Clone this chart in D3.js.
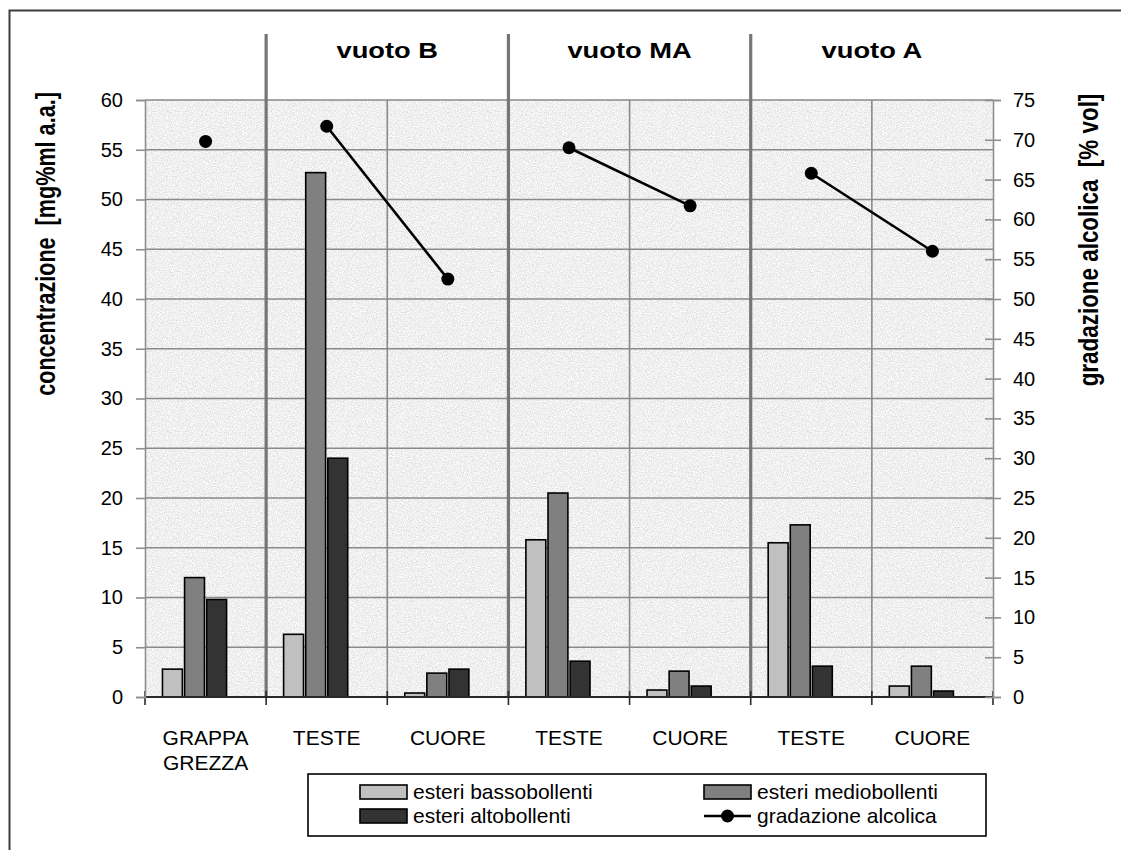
<!DOCTYPE html>
<html>
<head>
<meta charset="utf-8">
<script src="https://cdn.jsdelivr.net/npm/d3@7"></script>
<style>
  html, body { margin: 0; padding: 0; background: #ffffff; }
  svg { display: block; }
  text { font-family: "Liberation Sans", Arial, sans-serif; fill: #000; }
</style>
</head>
<body>
<svg id="chart" width="1121" height="850"></svg>
<script>
// ---------------- data ----------------
const categories = [["GRAPPA", "GREZZA"], ["TESTE"], ["CUORE"], ["TESTE"], ["CUORE"], ["TESTE"], ["CUORE"]];
const vuotoGroups = ["", "vuoto B", "vuoto B", "vuoto MA", "vuoto MA", "vuoto A", "vuoto A"];
const esteriBassobollenti = [2.8, 6.3, 0.4, 15.8, 0.7, 15.5, 1.1];
const esteriMediobollenti = [12.0, 52.7, 2.4, 20.5, 2.6, 17.3, 3.1];
const esteriAltobollenti = [9.8, 24.0, 2.8, 3.6, 1.1, 3.1, 0.6];
const gradazioneAlcolica = [69.8, 71.7, 52.5, 69.0, 61.7, 65.8, 56.0];
const seriesNames = ["esteri bassobollenti", "esteri mediobollenti", "esteri altobollenti", "gradazione alcolica"];
const leftTicks = d3.range(0, 61, 5);
const rightTicks = d3.range(0, 76, 5);
const leftTitle = "concentrazione  [mg%ml a.a.]";
const rightTitle = "gradazione alcolica  [% vol]";

// ---------------- layout ----------------
const svg = d3.select("#chart");
const plot = { left: 145, right: 993, top: 100, bottom: 697 };
const barColors = ["#c0c0c0", "#808080", "#333333"];
const gridColor = "#8a8a8a";

function stretch(sel, factor) {
  sel.each(function () {
    const w = this.getComputedTextLength();
    d3.select(this).attr("textLength", w * factor).attr("lengthAdjust", "spacingAndGlyphs");
  });
}

// granite texture filter
const defs = svg.append("defs");
const f = defs.append("filter").attr("id", "granite")
  .attr("x", 0).attr("y", 0).attr("width", 1).attr("height", 1)
  .attr("color-interpolation-filters", "sRGB");
f.append("feTurbulence").attr("type", "fractalNoise").attr("baseFrequency", 0.8)
  .attr("numOctaves", 3).attr("seed", 7).attr("result", "n");
f.append("feColorMatrix").attr("in", "n").attr("type", "matrix")
  .attr("values", "0.26 0 0 0 0.81  0.26 0 0 0 0.81  0.26 0 0 0 0.81  0 0 0 0 1");

// outer frame
svg.append("rect").attr("x", 9.5).attr("y", 10.5).attr("width", 1130).attr("height", 860)
  .attr("fill", "none").attr("stroke", "#3c3c3c").attr("stroke-width", 2);

const idx = d3.range(categories.length);
const x0 = d3.scaleBand().domain(idx).range([plot.left, plot.right]).padding(0);
const cw = x0.bandwidth();
const x1 = d3.scaleBand().domain(d3.range(seriesNames.length))
  .range([cw * 0.135, cw * 0.865]).paddingInner(0.1).paddingOuter(0.05);
const yL = d3.scaleLinear().domain([0, 60]).range([plot.bottom, plot.top]);
const yR = d3.scaleLinear().domain([0, 75]).range([plot.bottom, plot.top]);

// plot background
svg.append("rect").attr("x", plot.left).attr("y", plot.top)
  .attr("width", plot.right - plot.left).attr("height", plot.bottom - plot.top)
  .attr("filter", "url(#granite)");

// horizontal grid
svg.append("g").selectAll("line").data(leftTicks.filter(d => d > 0)).join("line")
  .attr("x1", plot.left).attr("x2", plot.right)
  .attr("y1", d => yL(d)).attr("y2", d => yL(d))
  .attr("stroke", gridColor).attr("stroke-width", 1.6);

// vertical grid at category boundaries
svg.append("g").selectAll("line").data(idx.slice(1)).join("line")
  .attr("x1", d => x0(d)).attr("x2", d => x0(d))
  .attr("y1", plot.top).attr("y2", plot.bottom)
  .attr("stroke", gridColor).attr("stroke-width", 1.6);

// vuoto separators (thick lines) and headers
const groupStarts = idx.filter(i => vuotoGroups[i] !== "" && vuotoGroups[i] !== vuotoGroups[i - 1]);
svg.append("g").selectAll("line").data(groupStarts).join("line")
  .attr("x1", d => x0(d)).attr("x2", d => x0(d))
  .attr("y1", 34).attr("y2", plot.bottom)
  .attr("stroke", "#767676").attr("stroke-width", 3.2);

const headerSel = svg.append("g").selectAll("text").data(groupStarts).join("text")
  .attr("x", d => {
    const last = d3.max(idx.filter(i => vuotoGroups[i] === vuotoGroups[d]));
    return (x0(d) + x0(last) + cw) / 2;
  })
  .attr("y", 58).attr("text-anchor", "middle")
  .attr("font-size", 22).attr("font-weight", "bold")
  .text(d => vuotoGroups[d]);
stretch(headerSel, 1.24);

// bars
const barSeries = [esteriBassobollenti, esteriMediobollenti, esteriAltobollenti];
const gBars = svg.append("g");
barSeries.forEach((vals, s) => {
  gBars.append("g").selectAll("rect").data(vals).join("rect")
    .attr("x", (d, i) => x0(i) + x1(s))
    .attr("width", x1.bandwidth())
    .attr("y", d => yL(d))
    .attr("height", d => yL(0) - yL(d))
    .attr("fill", barColors[s]).attr("stroke", "#000").attr("stroke-width", 1.6);
});

// x axis
svg.append("line").attr("x1", plot.left).attr("x2", plot.right)
  .attr("y1", plot.bottom).attr("y2", plot.bottom)
  .attr("stroke", "#2a2a2a").attr("stroke-width", 1.8);
svg.append("g").selectAll("line").data(d3.range(categories.length + 1)).join("line")
  .attr("x1", d => plot.left + d * cw).attr("x2", d => plot.left + d * cw)
  .attr("y1", plot.bottom - 6).attr("y2", plot.bottom + 8)
  .attr("stroke", "#2a2a2a").attr("stroke-width", 1.6);

const xl = svg.append("g").selectAll("text").data(idx).join("text")
  .attr("x", d => x0(d) + cw / 2).attr("y", 745)
  .attr("text-anchor", "middle").attr("font-size", 21);
xl.each(function (d) {
  const t = d3.select(this);
  categories[d].forEach((line, k) => {
    t.append("tspan").attr("x", x0(d) + cw / 2).attr("dy", k === 0 ? 0 : 25).text(line);
  });
});

// left axis
const axL = svg.append("g").attr("transform", `translate(${plot.left},0)`)
  .call(d3.axisLeft(yL).tickValues(leftTicks).tickSize(9).tickPadding(13).tickFormat(d3.format("d")));
axL.select(".domain").attr("stroke", "#8f8f8f").attr("stroke-width", 1.6);
axL.selectAll(".tick line").attr("stroke", "#8f8f8f").attr("stroke-width", 1.6);
axL.selectAll(".tick text").attr("font-size", 20).attr("font-family", "Liberation Sans, Arial, sans-serif").attr("fill", "#000");

// right axis (ticks crossing)
const axR = svg.append("g").attr("transform", `translate(${plot.right},0)`)
  .call(d3.axisRight(yR).tickValues(rightTicks).tickSize(8).tickPadding(12).tickFormat(d3.format("d")));
axR.select(".domain").attr("stroke", "#8f8f8f").attr("stroke-width", 1.6);
axR.selectAll(".tick line").attr("x1", -8).attr("stroke", "#8f8f8f").attr("stroke-width", 1.6);
axR.selectAll(".tick text").attr("font-size", 20).attr("font-family", "Liberation Sans, Arial, sans-serif").attr("fill", "#000");

// axis titles
const lt = svg.append("text").attr("transform", "translate(55,244) rotate(-90)")
  .attr("text-anchor", "middle").attr("font-size", 27).attr("font-weight", "bold")
  .attr("xml:space", "preserve").style("white-space", "pre").text(leftTitle);
stretch(lt, 0.8);
const rt = svg.append("text").attr("transform", "translate(1098,240) rotate(-90)")
  .attr("text-anchor", "middle").attr("font-size", 27).attr("font-weight", "bold")
  .attr("xml:space", "preserve").style("white-space", "pre").text(rightTitle);
stretch(rt, 0.83);

// line series (connected within each vuoto group)
const lineGen = d3.line().x(i => x0(i) + cw / 2).y(i => yR(gradazioneAlcolica[i]));
const groupNames = Array.from(new Set(vuotoGroups));
groupNames.forEach(g => {
  const members = idx.filter(i => vuotoGroups[i] === g);
  if (members.length > 1) {
    svg.append("path").datum(members).attr("d", lineGen)
      .attr("fill", "none").attr("stroke", "#000").attr("stroke-width", 2.6);
  }
});
svg.append("g").selectAll("circle").data(idx).join("circle")
  .attr("cx", i => x0(i) + cw / 2).attr("cy", i => yR(gradazioneAlcolica[i]))
  .attr("r", 6.5).attr("fill", "#000");

// legend
const lg = svg.append("g");
lg.append("rect").attr("x", 308).attr("y", 774).attr("width", 678).attr("height", 62)
  .attr("fill", "#fff").attr("stroke", "#000").attr("stroke-width", 1.6);
const legendItems = [
  { name: seriesNames[0], type: "bar", color: barColors[0], x: 360, y: 785 },
  { name: seriesNames[1], type: "bar", color: barColors[1], x: 704, y: 785 },
  { name: seriesNames[2], type: "bar", color: barColors[2], x: 360, y: 809 },
  { name: seriesNames[3], type: "line", color: "#000", x: 704, y: 809 }
];
legendItems.forEach(it => {
  if (it.type === "bar") {
    lg.append("rect").attr("x", it.x).attr("y", it.y).attr("width", 47).attr("height", 14)
      .attr("fill", it.color).attr("stroke", "#000").attr("stroke-width", 1.6);
  } else {
    lg.append("line").attr("x1", it.x).attr("x2", it.x + 47).attr("y1", it.y + 7).attr("y2", it.y + 7)
      .attr("stroke", "#000").attr("stroke-width", 2.6);
    lg.append("circle").attr("cx", it.x + 23.5).attr("cy", it.y + 7).attr("r", 6.5).attr("fill", "#000");
  }
  lg.append("text").attr("x", it.x + 53).attr("y", it.y + 14).attr("font-size", 21)
    .attr("xml:space", "preserve").style("white-space", "pre").text(it.name);
});
</script>
</body>
</html>
